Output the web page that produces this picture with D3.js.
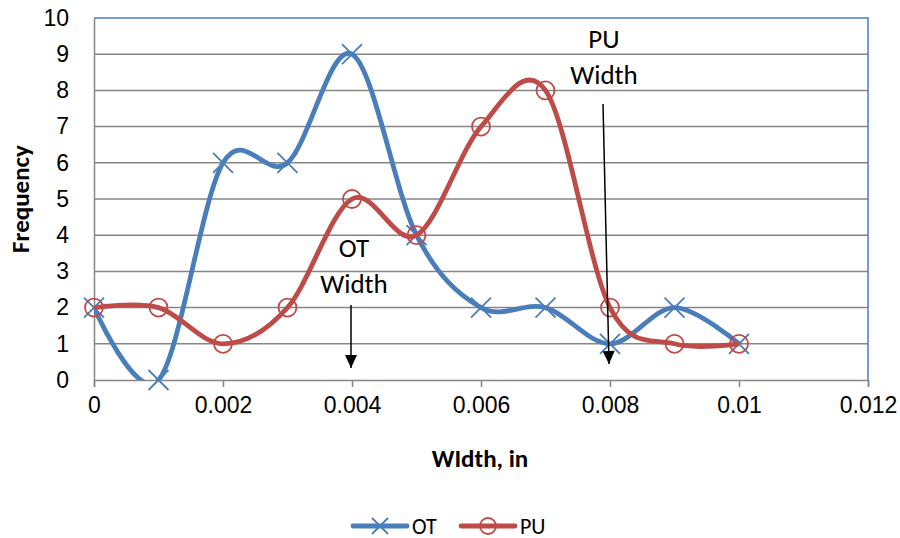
<!DOCTYPE html>
<html>
<head>
<meta charset="utf-8">
<script src="https://cdn.jsdelivr.net/npm/d3@7"></script>
<style>
  body { margin: 0; background: #fff; }
  svg { font-family: Calibri, Carlito, "Liberation Sans", sans-serif; }
</style>
</head>
<body>
<svg id="chart" width="900" height="538"></svg>
<script>
// data
const widths = [0, 0.001, 0.002, 0.003, 0.004, 0.005, 0.006, 0.007, 0.008, 0.009, 0.01];
const otFreq = [2, 0, 6, 6, 9, 4, 2, 2, 1, 2, 1];
const puFreq = [2, 2, 1, 2, 5, 4, 7, 8, 2, 1, 1];
const xTicks = [0, 0.002, 0.004, 0.006, 0.008, 0.01, 0.012];
const yTicks = [0, 1, 2, 3, 4, 5, 6, 7, 8, 9, 10];

const blue = "#4A7EBB", red = "#BE4B48", grid = "#868686";

const svg = d3.select("#chart");
const m = { left: 94, right: 32, top: 18, bottom: 158 };
const W = 900 - m.left - m.right, H = 538 - m.top - m.bottom;

const x = d3.scaleLinear().domain([0, 0.012]).range([m.left, m.left + W]);
const y = d3.scaleLinear().domain([0, 10]).range([m.top + H, m.top]);

const defs = svg.append("defs");
defs.append("clipPath").attr("id", "plotclip")
  .append("rect").attr("x", m.left).attr("y", m.top).attr("width", W).attr("height", H);

defs.append("marker")
  .attr("id", "arrowhead")
  .attr("viewBox", "0 -7 14 14")
  .attr("refX", 14).attr("refY", 0)
  .attr("markerWidth", 14).attr("markerHeight", 13)
  .attr("markerUnits", "userSpaceOnUse")
  .attr("orient", "auto")
  .append("path").attr("d", "M0,-6.5L14,0L0,6.5Z").attr("fill", "#000");

// gridlines
svg.append("g").selectAll("line").data(yTicks.filter(d => d > 0 && d < 10)).join("line")
  .attr("x1", m.left).attr("x2", m.left + W)
  .attr("y1", d => y(d)).attr("y2", d => y(d))
  .attr("stroke", grid).attr("stroke-width", 1.5);

// plot border (top/right in blue)
svg.append("path")
  .attr("d", `M${m.left},${m.top}H${m.left + W}V${m.top + H}`)
  .attr("fill", "none").attr("stroke", blue).attr("stroke-width", 1.5);

// axes
const xAxis = svg.append("g").attr("transform", `translate(0,${m.top + H})`)
  .call(d3.axisBottom(x).tickValues(xTicks).tickSize(7).tickPadding(10).tickFormat(d => String(+d.toFixed(3))));
const yAxis = svg.append("g").attr("transform", `translate(${m.left},0)`)
  .call(d3.axisLeft(y).tickValues(yTicks).tickSize(0).tickPadding(25));
[xAxis, yAxis].forEach(a => {
  a.select(".domain").attr("stroke", grid).attr("stroke-width", 1.5);
  a.selectAll(".tick line").attr("stroke", grid).attr("stroke-width", 1.5);
  a.selectAll("text").attr("font-size", 23).attr("fill", "#000").attr("font-family", null);
});

const line = d3.line().curve(d3.curveCardinal.tension(0))
  .x(d => x(d[0])).y(d => y(d[1]));

const otPts = widths.map((w, i) => [w, otFreq[i]]);
const puPts = widths.map((w, i) => [w, puFreq[i]]);

function xMark(sel, s) {
  sel.attr("d", `M${-s},${-s}L${s},${s}M${-s},${s}L${s},${-s}`)
    .attr("stroke", blue).attr("stroke-width", 1.8).attr("fill", "none");
}

svg.append("path").datum(otPts).attr("d", line).attr("clip-path", "url(#plotclip)")
  .attr("fill", "none").attr("stroke", blue).attr("stroke-width", 4.8);
svg.append("g").selectAll("path").data(otPts).join("path")
  .attr("transform", d => `translate(${x(d[0])},${y(d[1])})`).call(xMark, 10);

svg.append("path").datum(puPts).attr("d", line).attr("clip-path", "url(#plotclip)")
  .attr("fill", "none").attr("stroke", red).attr("stroke-width", 4.8);
svg.append("g").selectAll("circle").data(puPts).join("circle")
  .attr("cx", d => x(d[0])).attr("cy", d => y(d[1])).attr("r", 9)
  .attr("fill", "none").attr("stroke", red).attr("stroke-width", 1.8);

// annotations
function note(cx, lines, ty, x1, y1, x2, y2) {
  svg.append("text").attr("x", cx).attr("y", ty).attr("text-anchor", "middle")
    .attr("font-size", 27).attr("fill", "#000")
    .selectAll("tspan").data(lines).join("tspan")
    .attr("x", cx).attr("dy", (d, i) => i ? 36 : 0).text(d => d);
  svg.append("line").attr("x1", x1).attr("y1", y1).attr("x2", x2).attr("y2", y2)
    .attr("stroke", "#000").attr("stroke-width", 1.5).attr("marker-end", "url(#arrowhead)");
}
note(354, ["OT", "Width"], 257, 351, 305, 351, 368);
note(604, ["PU", "Width"], 48, 603, 104, 609, 364);

// axis titles
svg.append("text").attr("x", 480).attr("y", 467).attr("text-anchor", "middle")
  .attr("font-size", 25).attr("font-weight", "bold").text("WIdth, in");
svg.append("text").attr("transform", "translate(29,199) rotate(-90)").attr("text-anchor", "middle")
  .attr("font-size", 25).attr("font-weight", "bold").text("Frequency");

// legend
const legend = [
  { name: "OT", color: blue, x0: 353, mark: "x" },
  { name: "PU", color: red, x0: 461, mark: "o" }
];
const lg = svg.append("g").selectAll("g").data(legend).join("g")
  .attr("transform", d => `translate(${d.x0},526)`);
lg.append("line").attr("x1", 0).attr("x2", 54).attr("stroke", d => d.color)
  .attr("stroke-width", 4.8).attr("stroke-linecap", "round");
lg.filter(d => d.mark === "x").append("path").attr("transform", "translate(27,0)").call(xMark, 8);
lg.filter(d => d.mark === "o").append("circle").attr("cx", 27).attr("r", 8)
  .attr("fill", "none").attr("stroke", red).attr("stroke-width", 1.8);
lg.append("text").attr("x", 59).attr("y", 7.5).attr("font-size", 22).text(d => d.name);
</script>
</body>
</html>
